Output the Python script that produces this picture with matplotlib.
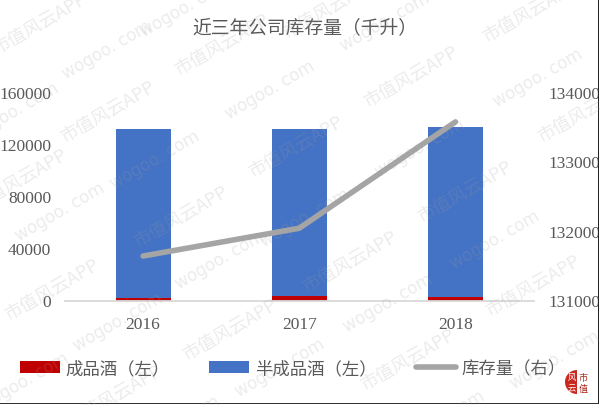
import numpy as np
import matplotlib
matplotlib.use("Agg")
import matplotlib.pyplot as plt
from matplotlib.patches import Wedge, Rectangle

plt.rcParams['font.family'] = ['Noto Sans CJK SC', 'DejaVu Sans']

years = ['2016', '2017', '2018']
finished = [2000, 3200, 2600]
semi_finished = [129500, 128600, 130900]
inventory = [131640, 132040, 133570]

left_ticks = [0, 40000, 80000, 120000, 160000]
right_ticks = [131000, 132000, 133000, 134000]

# watermark centres in pixels of the picture
wm_site = [(107, 50), (185, 8), (14, 112), (270, 90), (155, 160), (60, 212), (385, 22),
           (538, 78), (420, 148), (305, 218), (220, 260), (118, 322), (24, 382),
           (495, 240), (388, 303), (280, 368), (555, 360), (440, 420), (175, 425)]
wm_app = [(40, 24), (222, 45), (108, 112), (20, 180), (530, 12), (411, 77), (296, 147),
          (181, 217), (52, 290), (585, 112), (465, 192), (350, 262), (230, 330),
          (115, 396), (533, 286), (408, 360), (330, 8)]

fig = plt.figure(figsize=(6, 4.06), dpi=100)
ax = fig.add_axes([65 / 600, 1 - 301.5 / 406, 468.5 / 600, 208.5 / 406])
x = np.arange(len(years))

b1 = ax.bar(x, finished, width=0.352, color='#c00000', label='成品酒（左）')
b2 = ax.bar(x, semi_finished, width=0.352, bottom=finished, color='#4472c4', label='半成品酒（左）')
ax.set_xlim(-0.5, 2.5)
ax.set_ylim(0, 160000)
ax.set_xticks(x)
ax.set_xticklabels(years)
ax.set_yticks(left_ticks)

ax2 = ax.twinx()
l1, = ax2.plot(x, inventory, color='#a5a5a5', lw=4, solid_capstyle='round', label='库存量（右）')
ax2.set_ylim(131000, 134000)
ax2.set_yticks(right_ticks)

for a in (ax, ax2):
    for s in a.spines.values():
        s.set_visible(False)
    a.tick_params(length=0, labelsize=12.5, labelcolor='#595959')
    for t in a.get_xticklabels() + a.get_yticklabels():
        t.set_fontfamily('Liberation Serif')
ax.spines['bottom'].set_visible(True)
ax.spines['bottom'].set_color('#d9d9d9')
ax.spines['bottom'].set_linewidth(1.3)
ax.tick_params(axis='x', pad=11.5)
ax.tick_params(axis='y', pad=10)
ax2.tick_params(axis='y', pad=10.5)

fig.text(305 / 600, 1 - 28 / 406, '近三年公司库存量（千升）', ha='center', va='center',
         fontsize=13.5, color='#595959')

fig.legend(handles=[b1, b2, l1], loc='center', bbox_to_anchor=(293 / 600, 1 - 369 / 406), ncol=3,
           frameon=False, fontsize=12.5, labelcolor='#595959', handlelength=2.3, handleheight=0.65,
           handletextpad=0.35, columnspacing=2.25, borderpad=0)

# overlay in picture pixels: watermark, frame, logo
over = fig.add_axes([0, 0, 1, 1], zorder=10)
over.set_xlim(0, 600)
over.set_ylim(406, 0)
over.axis('off')
for px, py in wm_site:
    over.text(px, py, 'wogoo. com', rotation=30, ha='center', va='center', fontsize=12,
              color='#a0a0a0', alpha=0.2, family='DejaVu Sans')
for px, py in wm_app:
    over.text(px, py, '市值风云APP', rotation=30, ha='center', va='center', fontsize=13,
              color='#a0a0a0', alpha=0.2)

over.add_patch(Rectangle((597.5, 0), 1.5, 405, color='#222222', lw=0))
over.add_patch(Rectangle((599, 0), 1, 406, color='white', lw=0))
over.add_patch(Rectangle((0, 404), 599, 1.2, color='#333333', lw=0))

over.add_patch(Wedge((577, 383), 12, 90, 270, color='#c8281e', lw=0))
over.text(572, 377, '风', fontsize=6, color='white', ha='center', va='center')
over.text(572, 389, '云', fontsize=6, color='white', ha='center', va='center')
over.text(583, 378, '市', fontsize=6.5, color='#a8261c', ha='center', va='center')
over.text(583, 389, '值', fontsize=6.5, color='#a8261c', ha='center', va='center')

fig.savefig('out.png', dpi=100)
